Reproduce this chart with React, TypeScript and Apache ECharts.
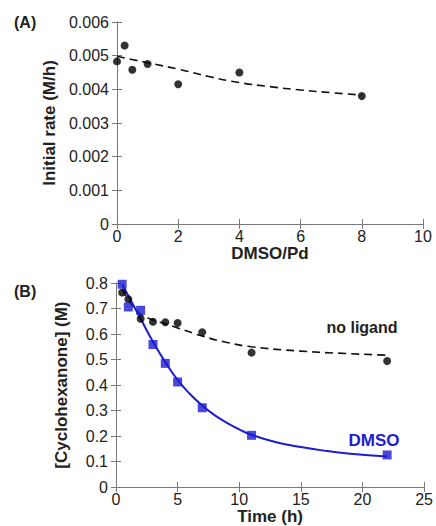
import React, { useEffect, useRef } from "react";
import * as echarts from "echarts";

// Panel A: initial rate vs DMSO/Pd
const ratioA = [0, 0.25, 0.5, 1, 2, 4, 8];
const rateA = [0.00483, 0.0053, 0.00458, 0.00475, 0.00415, 0.0045, 0.0038];
const fitAx = [0, 1, 2, 3, 4, 5, 6, 7, 8];
const fitAy = [0.00498, 0.00479, 0.0046, 0.00438, 0.0042, 0.00408, 0.00398, 0.0039, 0.00383];

// Panel B: [Cyclohexanone] vs time
const timeB = [0.5, 1, 2, 3, 4, 5, 7, 11, 22];
const noLigand = [0.763, 0.736, 0.66, 0.648, 0.646, 0.643, 0.607, 0.527, 0.494];
const dmso = [0.795, 0.706, 0.693, 0.559, 0.485, 0.412, 0.311, 0.203, 0.126];
const fitNoLigandX = [0.5, 1, 1.5, 2, 3, 4, 5, 7, 9, 11, 15, 18, 22];
const fitNoLigandY = [0.775, 0.735, 0.702, 0.678, 0.655, 0.64, 0.624, 0.592, 0.567, 0.55, 0.533, 0.525, 0.517];
const fitDmsoX = [0.5, 1, 2, 3, 4, 5, 6, 7, 8, 9, 10, 11, 13, 15, 17, 19, 22];
const fitDmsoY = [0.795, 0.75, 0.66, 0.57, 0.49, 0.42, 0.365, 0.32, 0.282, 0.252, 0.226, 0.205, 0.176, 0.157, 0.142, 0.131, 0.12];

const zip = (xs: number[], ys: number[]) => xs.map((x, i) => [x, ys[i]]);

const AXIS_COLOR = "#7a7a7a";
const TEXT_COLOR = "#222";
const BLUE = "#1c1cd0";
const FONT = "Liberation Sans, Arial, sans-serif";

function boxAxes(gridIndex: number, xMax: number, xInt: number, yMax: number, yInt: number, xName: string, yName: string, xNameGap: number, yNameGap: number) {
  const line = { show: true, lineStyle: { color: AXIS_COLOR, width: 1 } };
  const tick = { show: true, inside: true, length: 5, lineStyle: { color: AXIS_COLOR } };
  const label = { color: TEXT_COLOR, fontSize: 16, fontFamily: FONT };
  const nameStyle = { color: TEXT_COLOR, fontSize: 17, fontWeight: "bold" as const, fontFamily: FONT };
  return {
    xAxis: [
      {
        type: "value", gridIndex, position: "bottom", min: 0, max: xMax, interval: xInt,
        axisLine: line, axisTick: tick, splitLine: { show: false },
        axisLabel: { ...label, margin: 4 },
        name: xName, nameLocation: "middle", nameGap: xNameGap, nameTextStyle: nameStyle,
      },
      {
        type: "value", gridIndex, position: "top", min: 0, max: xMax, interval: xInt,
        axisLine: line, axisTick: tick, splitLine: { show: false }, axisLabel: { show: false },
      },
    ],
    yAxis: [
      {
        type: "value", gridIndex, position: "left", min: 0, max: yMax, interval: yInt,
        axisLine: line, axisTick: tick, splitLine: { show: false },
        axisLabel: { ...label, margin: 8 },
        name: yName, nameLocation: "middle", nameGap: yNameGap, nameTextStyle: nameStyle,
      },
      {
        type: "value", gridIndex, position: "right", min: 0, max: yMax, interval: yInt,
        axisLine: line, axisTick: tick, splitLine: { show: false }, axisLabel: { show: false },
      },
    ],
  };
}

export default function App() {
  const ref = useRef<HTMLDivElement>(null);
  useEffect(() => {
    if (!ref.current) return;
    const chart = echarts.init(ref.current, null, { renderer: "svg" });
    const a = boxAxes(0, 10, 2, 0.006, 0.001, "DMSO/Pd", "Initial rate (M/h)", 14, 56);
    const b = boxAxes(1, 25, 5, 0.8, 0.1, "Time (h)", "[Cyclohexanone] (M)", 13, 46);
    chart.setOption({
      animation: false,
      backgroundColor: "#fff",
      grid: [
        { left: 117, top: 22, width: 306, height: 202 },
        { left: 116, top: 283, width: 311, height: 207 },
      ],
      xAxis: [...a.xAxis, ...b.xAxis],
      yAxis: [...a.yAxis, ...b.yAxis],
      series: [
        {
          type: "line", xAxisIndex: 0, yAxisIndex: 0, data: zip(fitAx, fitAy), smooth: true,
          showSymbol: false, lineStyle: { color: "#111", width: 1.6, type: [8, 5] }, z: 2,
        },
        {
          type: "scatter", xAxisIndex: 0, yAxisIndex: 0, data: zip(ratioA, rateA),
          symbol: "circle", symbolSize: 8, itemStyle: { color: "#000" }, z: 3,
        },
        {
          type: "line", xAxisIndex: 2, yAxisIndex: 2, data: zip(fitNoLigandX, fitNoLigandY), smooth: true,
          showSymbol: false, lineStyle: { color: "#111", width: 1.6, type: [8, 5] }, z: 2,
        },
        {
          type: "line", xAxisIndex: 2, yAxisIndex: 2, data: zip(fitDmsoX, fitDmsoY), smooth: true,
          showSymbol: false, lineStyle: { color: BLUE, width: 2 }, z: 2,
        },
        {
          type: "scatter", xAxisIndex: 2, yAxisIndex: 2, data: zip(timeB, noLigand),
          symbol: "circle", symbolSize: 8, itemStyle: { color: "#000" }, z: 3,
        },
        {
          type: "scatter", xAxisIndex: 2, yAxisIndex: 2, data: zip(timeB, dmso),
          symbol: "rect", symbolSize: 9, itemStyle: { color: BLUE }, z: 4,
        },
      ],
      graphic: [
        { type: "text", left: 14, top: 14, style: { text: "(A)", font: `bold 16px ${FONT}`, fill: TEXT_COLOR } },
        { type: "text", left: 14, top: 283, style: { text: "(B)", font: `bold 16px ${FONT}`, fill: TEXT_COLOR } },
        { type: "text", x: 362, y: 327, style: { text: "no ligand", font: `bold 16px ${FONT}`, fill: TEXT_COLOR, align: "center", verticalAlign: "middle" } },
        { type: "text", x: 374, y: 440, style: { text: "DMSO", font: `bold 17px ${FONT}`, fill: BLUE, align: "center", verticalAlign: "middle" } },
      ],
    });
    return () => chart.dispose();
  }, []);
  return <div ref={ref} style={{ position: "fixed", left: 0, top: 0, width: 436, height: 526 }} />;
}
